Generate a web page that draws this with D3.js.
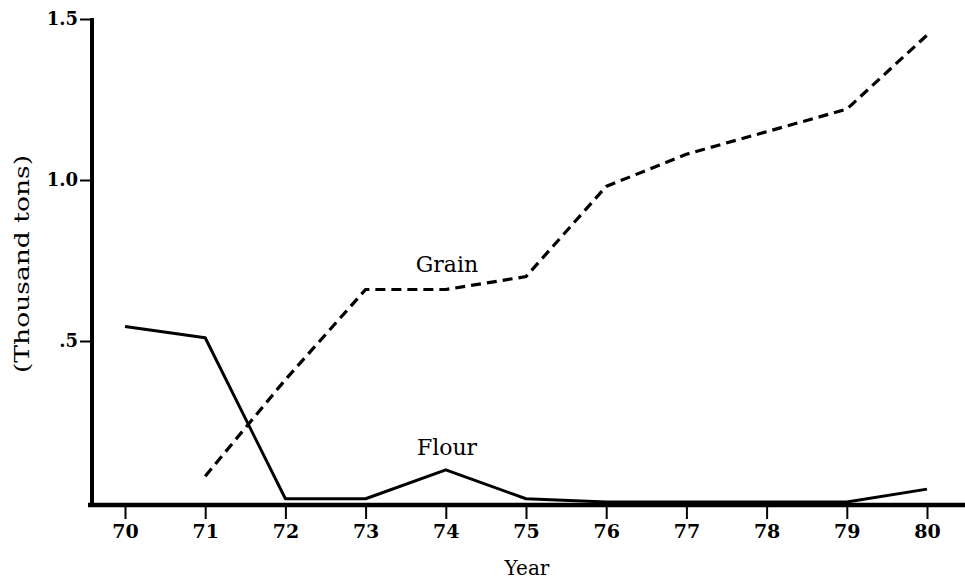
<!DOCTYPE html>
<html>
<head>
<meta charset="utf-8">
<script src="https://cdn.jsdelivr.net/npm/d3@7"></script>
<style>
  body { margin: 0; background: #fff; }
  text { font-family: "DejaVu Serif", "Liberation Serif", serif; fill: #000; }
</style>
</head>
<body>
<div id="chart"></div>
<script>
// data (thousand tons)
var years = [70, 71, 72, 73, 74, 75, 76, 77, 78, 79, 80];
var grain = [null, 0.08, 0.38, 0.66, 0.66, 0.70, 0.98, 1.08, 1.15, 1.22, 1.45];
var flour = [0.545, 0.51, 0.01, 0.01, 0.10, 0.01, 0.0, 0.0, 0.0, 0.0, 0.04];
var yTicks = [0.5, 1.0, 1.5];
var yTickLabels = [".5", "1.0", "1.5"];

var width = 965, height = 582;

var svg = d3.select("#chart").append("svg")
  .attr("width", width)
  .attr("height", height);

var x = d3.scaleLinear().domain([70, 80]).range([125, 927]);
var y = d3.scaleLinear().domain([0, 1.5]).range([502, 19]);

// axes
var xAxis = svg.append("g")
  .attr("transform", "translate(0," + 505 + ")")
  .call(d3.axisBottom(x).tickValues(years).tickSize(14).tickPadding(6).tickFormat(d3.format("d")));
xAxis.select(".domain").remove();
xAxis.selectAll("line").attr("stroke", "#000").attr("stroke-width", 2);
xAxis.selectAll("text")
  .style("font-family", "DejaVu Serif")
  .style("font-size", "19px")
  .style("font-weight", "bold");

svg.append("line")
  .attr("x1", 88).attr("x2", 965)
  .attr("y1", 505).attr("y2", 505)
  .attr("stroke", "#000").attr("stroke-width", 4.5);

var yAxis = svg.append("g")
  .attr("transform", "translate(92,0)")
  .call(d3.axisLeft(y).tickValues(yTicks).tickSize(12).tickPadding(2)
    .tickFormat(function(d, i) { return yTickLabels[i]; }));
yAxis.select(".domain").remove();
yAxis.selectAll("line").attr("stroke", "#000").attr("stroke-width", 2);
yAxis.selectAll("text")
  .style("font-family", "DejaVu Serif")
  .style("font-size", "18px")
  .style("font-weight", "bold");

svg.append("line")
  .attr("x1", 92).attr("x2", 92)
  .attr("y1", 18).attr("y2", 507)
  .attr("stroke", "#000").attr("stroke-width", 4);

// axis titles
svg.append("text")
  .attr("x", 527).attr("y", 575)
  .attr("text-anchor", "middle")
  .style("font-size", "20px")
  .text("Year");

svg.append("text")
  .attr("transform", "translate(29,264) rotate(-90)")
  .attr("text-anchor", "middle")
  .attr("textLength", 218)
  .attr("lengthAdjust", "spacingAndGlyphs")
  .style("font-size", "21px")
  .text("(Thousand tons)");

// lines
var line = d3.line()
  .defined(function(d) { return d[1] != null; })
  .x(function(d) { return x(d[0]); })
  .y(function(d) { return y(d[1]); });

svg.append("path")
  .datum(years.map(function(yr, i) { return [yr, grain[i]]; }))
  .attr("d", line)
  .attr("fill", "none")
  .attr("stroke", "#000")
  .attr("stroke-width", 3.2)
  .attr("stroke-dasharray", "10,6");

svg.append("path")
  .datum(years.map(function(yr, i) { return [yr, flour[i]]; }))
  .attr("d", line)
  .attr("fill", "none")
  .attr("stroke", "#000")
  .attr("stroke-width", 3)
  .attr("stroke-linejoin", "round");

// series labels
svg.append("text")
  .attr("x", 447).attr("y", 272)
  .attr("text-anchor", "middle")
  .style("font-size", "22px")
  .text("Grain");

svg.append("text")
  .attr("x", 447).attr("y", 455)
  .attr("text-anchor", "middle")
  .style("font-size", "22px")
  .text("Flour");
</script>
</body>
</html>
